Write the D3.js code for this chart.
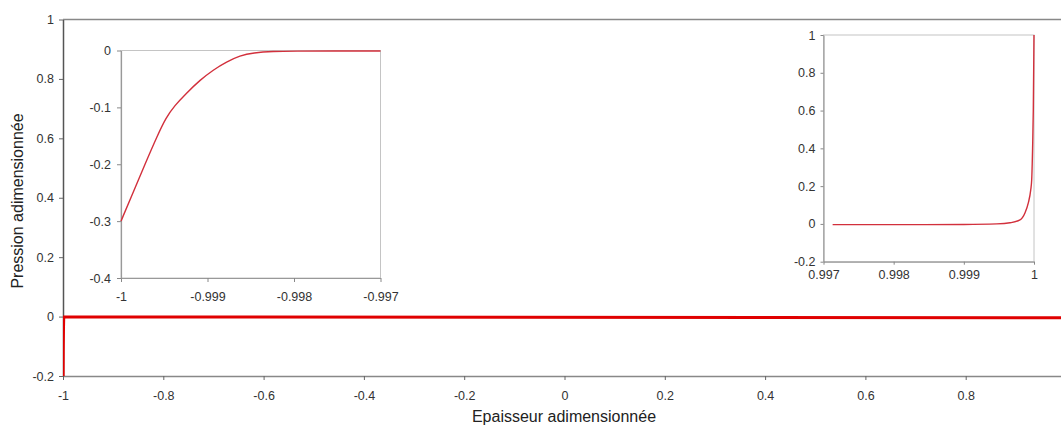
<!DOCTYPE html>
<html>
<head>
<meta charset="utf-8">
<script src="https://cdnjs.cloudflare.com/ajax/libs/d3/7.8.5/d3.min.js"></script>
<style>
  body { margin: 0; background: #fff; }
  svg { display: block; }
  .tick text { font-family: "Liberation Sans", Arial, sans-serif; fill: #333; }
  .title { font-family: "Liberation Sans", Arial, sans-serif; fill: #222; font-size: 16px; }
</style>
</head>
<body>
<svg id="chart" width="1061" height="429"></svg>
<script>
// pressure near the left wall (x = -1)
var leftX = [-1, -0.999861, -0.999723, -0.99958, -0.99948, -0.99938, -0.99925, -0.999087, -0.998933,
             -0.998779, -0.998625, -0.998471, -0.99824, -0.99801, -0.9975, -0.997];
var leftY = [-0.3, -0.25, -0.2, -0.15, -0.118, -0.097, -0.076, -0.052, -0.034,
             -0.02, -0.009, -0.004, -0.0015, -0.001, -0.001, -0.001];

// pressure near the right wall (x = 1)
var rightX = [0.997, 0.99713, 0.998, 0.999, 0.99947, 0.999658, 0.9998, 0.999871,
              0.999919, 0.999953, 0.999967, 0.99998, 0.99999, 1];
var rightY = [-0.004, -0.004, -0.004, -0.003, 0.0, 0.006, 0.021, 0.058,
              0.111, 0.179, 0.232, 0.4, 0.6, 1.0];

var mainXTicks = [-1, -0.8, -0.6, -0.4, -0.2, 0, 0.2, 0.4, 0.6, 0.8];
var mainYTicks = [-0.2, 0, 0.2, 0.4, 0.6, 0.8, 1];
var leftXTicks = [-1, -0.999, -0.998, -0.997];
var leftYTicks = [-0.4, -0.3, -0.2, -0.1, 0];
var rightXTicks = [0.997, 0.998, 0.999, 1];
var rightYTicks = [-0.2, 0, 0.2, 0.4, 0.6, 0.8, 1];

var svg = d3.select("#chart");
var fmt = function(d) { return String(+d.toFixed(3)); };

function pts(xs, ys) {
  return xs.map(function(x, i) { return [x, ys[i]]; });
}
var leftData = pts(leftX, leftY);
var rightData = pts(rightX, rightY);
var mainData = leftData.concat(rightData);

// ---------- main chart ----------
var W = 1061;
var mx = d3.scaleLinear().domain([-1, 1]).range([63, 1066]);
var my = d3.scaleLinear().domain([-0.2, 1]).range([376, 19.5]);

svg.append("defs").append("clipPath").attr("id", "mainClip")
  .append("rect").attr("x", 63).attr("y", 19.5).attr("width", W - 63).attr("height", 376 - 19.5);

// top border
svg.append("line")
  .attr("x1", 63).attr("x2", W).attr("y1", 19.5).attr("y2", 19.5)
  .attr("stroke", "#888").attr("stroke-width", 1.5);

var gmx = svg.append("g").attr("transform", "translate(0,376)")
  .call(d3.axisBottom(mx).tickValues(mainXTicks).tickFormat(fmt).tickSize(4).tickSizeOuter(0).tickPadding(11));
var gmy = svg.append("g").attr("transform", "translate(63,0)")
  .call(d3.axisLeft(my).tickValues(mainYTicks).tickFormat(fmt).tickSize(4).tickSizeOuter(0).tickPadding(5));

[gmx, gmy].forEach(function(g) {
  g.selectAll(".tick text").style("font-size", "12.5px");
  g.selectAll(".tick line").attr("stroke", "#666");
});
// axis line runs to the right edge, past the last tick
gmx.select(".domain").attr("d", "M63,0.5H" + W).attr("stroke", "#888").attr("stroke-width", 1.5);
gmy.select(".domain").attr("stroke", "#555").attr("stroke-width", 1.5);

svg.append("path")
  .datum(mainData)
  .attr("clip-path", "url(#mainClip)")
  .attr("fill", "none")
  .attr("stroke", "#e00000")
  .attr("stroke-width", 3)
  .attr("d", d3.line().x(function(d) { return mx(d[0]); }).y(function(d) { return my(d[1]); }));

svg.append("text").attr("class", "title")
  .attr("x", 564).attr("y", 422).attr("text-anchor", "middle")
  .text("Epaisseur adimensionnée");
svg.append("text").attr("class", "title")
  .attr("transform", "translate(23,201) rotate(-90)").attr("text-anchor", "middle")
  .text("Pression adimensionnée");

// ---------- insets ----------
function inset(cfg) {
  var x = d3.scaleLinear().domain(cfg.xd).range([cfg.l, cfg.r]);
  var y = d3.scaleLinear().domain(cfg.yd).range([cfg.b, cfg.t]);
  var g = svg.append("g");
  g.append("rect").attr("x", cfg.l).attr("y", cfg.t)
    .attr("width", cfg.r - cfg.l).attr("height", cfg.b - cfg.t)
    .attr("fill", "#fff").attr("stroke", "#c4c4c4").attr("stroke-width", 1);
  var gx = g.append("g").attr("transform", "translate(0," + cfg.b + ")")
    .call(d3.axisBottom(x).tickValues(cfg.xt).tickFormat(fmt).tickSize(cfg.ts).tickSizeOuter(0).tickPadding(cfg.xp));
  var gy = g.append("g").attr("transform", "translate(" + cfg.l + ",0)")
    .call(d3.axisLeft(y).tickValues(cfg.yt).tickFormat(fmt).tickSize(cfg.ts).tickSizeOuter(0).tickPadding(cfg.yp));
  [gx, gy].forEach(function(a) {
    a.select(".domain").attr("stroke", "#999").attr("stroke-width", 1.2);
    a.selectAll(".tick line").attr("stroke", "#888");
    a.selectAll(".tick text").style("font-size", cfg.fs + "px");
  });
  g.append("path")
    .datum(cfg.data)
    .attr("fill", "none")
    .attr("stroke", "#d2303c")
    .attr("stroke-width", 1.4)
    .attr("d", d3.line().x(function(d) { return x(d[0]); }).y(function(d) { return y(d[1]); }).curve(cfg.curve));
}

inset({ l: 121, r: 380.5, t: 50.5, b: 278, xd: [-1, -0.997], yd: [-0.4, 0],
        xt: leftXTicks, yt: leftYTicks, ts: 4, xp: 10, yp: 6, fs: 12.5,
        data: leftData, curve: d3.curveBasis });
inset({ l: 823.5, r: 1034, t: 35, b: 261.7, xd: [0.997, 1], yd: [-0.2, 1],
        xt: rightXTicks, yt: rightYTicks, ts: 3, xp: 5, yp: 5, fs: 12.5,
        data: rightData.slice(1), curve: d3.curveMonotoneX });
</script>
</body>
</html>
